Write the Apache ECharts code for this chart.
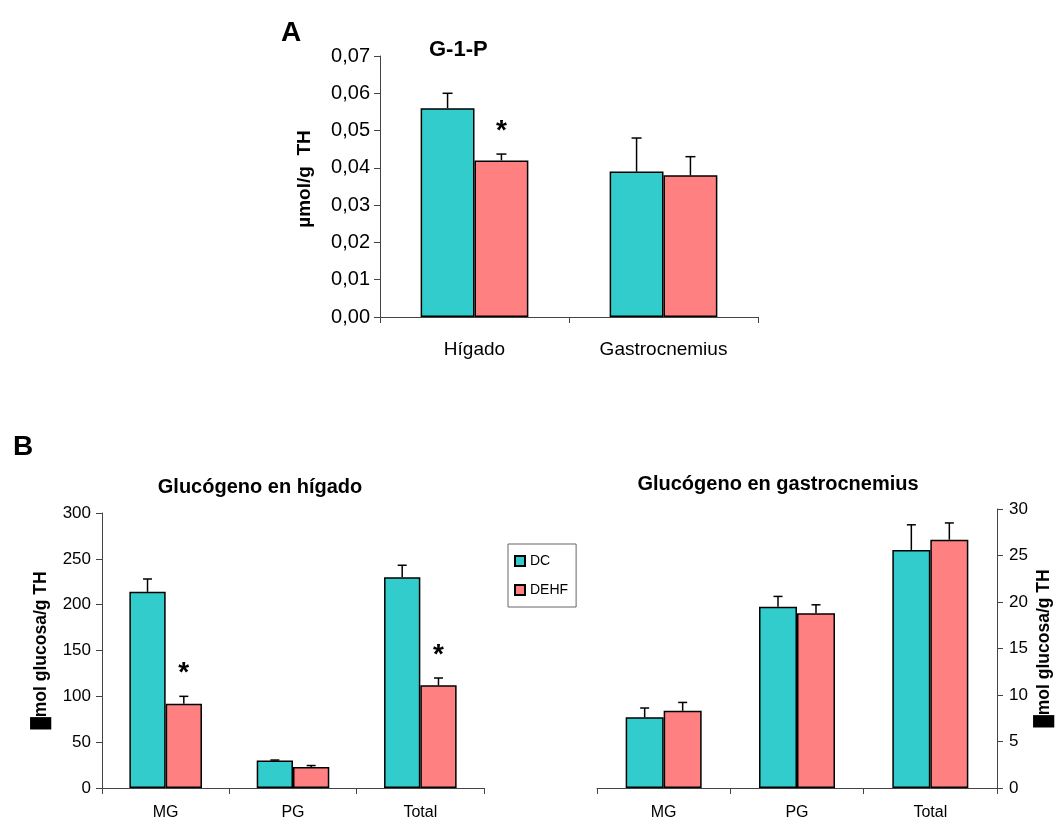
<!DOCTYPE html>
<html>
<head>
<meta charset="utf-8">
<script src="https://cdn.jsdelivr.net/npm/echarts@6/dist/echarts.min.js"></script>
<style>
  html, body { margin: 0; padding: 0; background: #fff; }
  #chart { width: 1057px; height: 821px; }
</style>
</head>
<body>
<div id="chart"></div>
<script>
// ---- Data ----
const groups = ['DC', 'DEHF'];

// Panel A: G-1-P (µmol/g TH)
const g1pCats = ['Hígado', 'Gastrocnemius'];
const g1pDC = [0.056, 0.039];
const g1pDCErr = [0.004, 0.009];
const g1pDEHF = [0.042, 0.038];
const g1pDEHFErr = [0.0017, 0.005];
const g1pDEHFSig = [true, false];

// Panel B: liver glycogen (µmol glucosa/g TH)
const glyCats = ['MG', 'PG', 'Total'];
const liverDC = [214, 30, 230];
const liverDCErr = [14, 0.5, 13];
const liverDEHF = [92, 23, 112];
const liverDEHFErr = [8, 1.5, 8];
const liverDEHFSig = [true, false, true];

// Panel B: gastrocnemius glycogen (µmol glucosa/g TH)
const muscleDC = [7.6, 19.5, 25.6];
const muscleDCErr = [1.0, 1.1, 2.7];
const muscleDEHF = [8.3, 18.8, 26.7];
const muscleDEHFErr = [0.9, 0.9, 1.8];
const muscleDEHFSig = [false, false, false];

// ---- Styling ----
const COLOR_DC = '#33CCCC';
const COLOR_DEHF = '#FF8080';
const AXIS_COLOR = '#444';
const CAT_GAP = 0.43;
const FONT = '"Liberation Sans", Arial, sans-serif';

const chart = echarts.init(document.getElementById('chart'), null, { renderer: 'canvas' });

// Error bar (upper whisker with cap) plus optional significance asterisk
function errorBarRenderer(side, capW) {
  return function (params, api) {
    const cat = api.value(0);
    const val = api.value(1);
    const err = api.value(2);
    const sig = api.value(3);
    const band = api.size([1, 0])[0];
    const bw = band * (1 - CAT_GAP) / 2;
    const base = api.coord([cat, val]);
    const top = api.coord([cat, val + err]);
    const x = base[0] + side * bw / 2;
    const children = [
      { type: 'line', shape: { x1: x, y1: base[1], x2: x, y2: top[1] },
        style: { stroke: '#000', lineWidth: 1.5 } },
      { type: 'line', shape: { x1: x - capW / 2, y1: top[1], x2: x + capW / 2, y2: top[1] },
        style: { stroke: '#000', lineWidth: 1.5 } }
    ];
    if (sig) {
      children.push({
        type: 'text',
        style: { text: '*', x: x, y: top[1] - 23, align: 'center', verticalAlign: 'middle',
                 font: 'bold 28px ' + FONT, fill: '#000' }
      });
    }
    return { type: 'group', children: children };
  };
}

function errData(vals, errs, sigs) {
  return vals.map((v, i) => [i, v, errs[i], sigs ? (sigs[i] ? 1 : 0) : 0]);
}

function barSeries(name, data, gi, color) {
  return {
    type: 'bar', name: name, xAxisIndex: gi, yAxisIndex: gi, data: data,
    barGap: '0%', barCategoryGap: (CAT_GAP * 100) + '%',
    itemStyle: { color: color, borderColor: '#000', borderWidth: 1.5 },
    emphasis: { disabled: true }, animation: false, z: 2
  };
}

function errSeries(vals, errs, sigs, gi, side, capW) {
  return {
    type: 'custom', xAxisIndex: gi, yAxisIndex: gi,
    data: errData(vals, errs, sigs),
    renderItem: errorBarRenderer(side, capW),
    encode: { x: 0, y: 1 }, animation: false, z: 3, silent: true
  };
}

function catAxis(gi, cats, fontSize, margin) {
  return {
    type: 'category', gridIndex: gi, data: cats, boundaryGap: true,
    axisLine: { lineStyle: { color: AXIS_COLOR, width: 1 } },
    axisTick: { show: true, length: 6, inside: false, lineStyle: { color: AXIS_COLOR } },
    axisLabel: { color: '#000', fontSize: fontSize, fontFamily: FONT, margin: margin },
    splitLine: { show: false }
  };
}

const option = {
  backgroundColor: '#fff',
  animation: false,
  title: [
    { text: 'A', left: 276, top: 14, textStyle: { fontSize: 28, fontWeight: 'bold', fontFamily: FONT, color: '#000' } },
    { text: 'G-1-P', left: 424, top: 34, textStyle: { fontSize: 22, fontWeight: 'bold', fontFamily: FONT, color: '#000' } },
    { text: 'B', left: 8, top: 428, textStyle: { fontSize: 28, fontWeight: 'bold', fontFamily: FONT, color: '#000' } },
    { text: 'Glucógeno en hígado', left: 255, top: 472, textAlign: 'center',
      textStyle: { fontSize: 20, fontWeight: 'bold', fontFamily: FONT, color: '#000' } },
    { text: 'Glucógeno en gastrocnemius', left: 773, top: 469, textAlign: 'center',
      textStyle: { fontSize: 20, fontWeight: 'bold', fontFamily: FONT, color: '#000' } }
  ],
  legend: {
    data: groups, orient: 'vertical', left: 508, top: 544,
    padding: [10, 8, 10, 6], itemGap: 15, itemWidth: 10, itemHeight: 10,
    borderColor: '#666', borderWidth: 1, icon: 'rect',
    textStyle: { fontSize: 14, fontFamily: FONT, color: '#000' },
    selectedMode: false
  },
  grid: [
    { left: 380, top: 56, width: 378, height: 261 },
    { left: 102, top: 513, width: 382, height: 275 },
    { left: 597, top: 509, width: 400, height: 280 }
  ],
  xAxis: [
    catAxis(0, g1pCats, 19, 23),
    catAxis(1, glyCats, 16, 17),
    catAxis(2, glyCats, 16, 17)
  ],
  yAxis: [
    {
      type: 'value', gridIndex: 0, min: 0, max: 0.07, interval: 0.01,
      name: 'µmol/g  TH', nameLocation: 'middle', nameRotate: 90, nameGap: 66,
      nameTextStyle: { fontSize: 19, fontWeight: 'bold', fontFamily: FONT, color: '#000',
                       padding: [0, 0, 0, 15] },
      axisLine: { show: true, lineStyle: { color: AXIS_COLOR } },
      axisTick: { show: true, length: 6, lineStyle: { color: AXIS_COLOR } },
      axisLabel: { color: '#000', fontSize: 20, fontFamily: FONT, margin: 10,
                   formatter: v => v.toFixed(2).replace('.', ',') },
      splitLine: { show: false }
    },
    {
      type: 'value', gridIndex: 1, min: 0, max: 300, interval: 50,
      name: '█mol glucosa/g TH', nameLocation: 'middle', nameRotate: 90, nameGap: 52,
      nameTextStyle: { fontSize: 17.5, fontWeight: 'bold', fontFamily: FONT, color: '#000' },
      axisLine: { show: true, lineStyle: { color: AXIS_COLOR } },
      axisTick: { show: true, length: 6, lineStyle: { color: AXIS_COLOR } },
      axisLabel: { color: '#000', fontSize: 17, fontFamily: FONT, margin: 11 },
      splitLine: { show: false }
    },
    {
      type: 'value', gridIndex: 2, position: 'right', min: 0, max: 30, interval: 5,
      name: '█mol glucosa/g TH', nameLocation: 'middle', nameRotate: 90, nameGap: 38,
      nameTextStyle: { fontSize: 17.5, fontWeight: 'bold', fontFamily: FONT, color: '#000' },
      axisLine: { show: true, lineStyle: { color: AXIS_COLOR } },
      axisTick: { show: true, length: 6, lineStyle: { color: AXIS_COLOR } },
      axisLabel: { color: '#000', fontSize: 17, fontFamily: FONT, margin: 12 },
      splitLine: { show: false }
    }
  ],
  series: [
    barSeries('DC', g1pDC, 0, COLOR_DC),
    barSeries('DEHF', g1pDEHF, 0, COLOR_DEHF),
    errSeries(g1pDC, g1pDCErr, null, 0, -1, 10),
    errSeries(g1pDEHF, g1pDEHFErr, g1pDEHFSig, 0, 1, 10),

    barSeries('DC', liverDC, 1, COLOR_DC),
    barSeries('DEHF', liverDEHF, 1, COLOR_DEHF),
    errSeries(liverDC, liverDCErr, null, 1, -1, 9),
    errSeries(liverDEHF, liverDEHFErr, liverDEHFSig, 1, 1, 9),

    barSeries('DC', muscleDC, 2, COLOR_DC),
    barSeries('DEHF', muscleDEHF, 2, COLOR_DEHF),
    errSeries(muscleDC, muscleDCErr, null, 2, -1, 9),
    errSeries(muscleDEHF, muscleDEHFErr, muscleDEHFSig, 2, 1, 9)
  ]
};

chart.setOption(option);
</script>
</body>
</html>
